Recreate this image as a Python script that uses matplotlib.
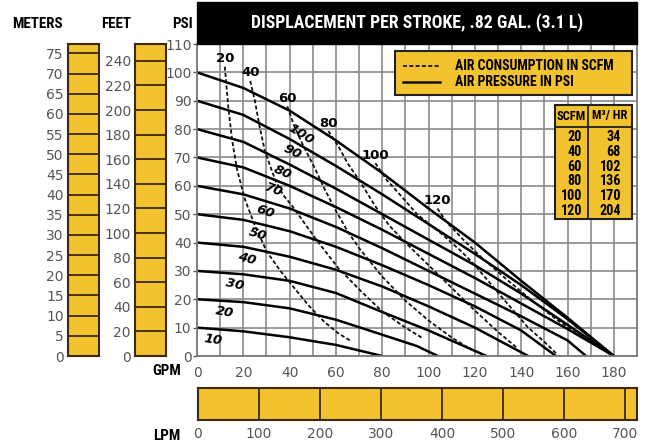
import numpy as np
import matplotlib
matplotlib.use('Agg')
from matplotlib import pyplot as plt
from matplotlib.patches import Rectangle

W, H = 650, 442
YELLOW = '#F3C22F'
EDGE = '#3b2a12'
GRAY_TXT = '#555555'
NARROW = ['Roboto Condensed', 'Liberation Sans Narrow', 'Roboto', 'DejaVu Sans']

# axis ticks
gpm_ticks = [0, 20, 40, 60, 80, 100, 120, 140, 160, 180]
psi_ticks = [0, 10, 20, 30, 40, 50, 60, 70, 80, 90, 100, 110]
meter_ticks = [0, 5, 10, 15, 20, 25, 30, 35, 40, 45, 50, 55, 60, 65, 70, 75]
feet_ticks = [0, 20, 40, 60, 80, 100, 120, 140, 160, 180, 200, 220, 240]
lpm_ticks = [0, 100, 200, 300, 400, 500, 600, 700]

# air pressure curves (psi)
pressure_levels = [10, 20, 30, 40, 50, 60, 70, 80, 90, 100]
pressure_gpm = [
    [0, 20, 40, 60, 80],
    [0, 20, 40, 60, 80, 95, 104],
    [0, 20, 40, 60, 80, 100, 125],
    [0, 20, 40, 60, 80, 100, 120, 143],
    [0, 20, 40, 60, 80, 100, 120, 140, 155],
    [0, 20, 40, 60, 80, 100, 120, 140, 160, 168],
    [0, 20, 40, 60, 80, 100, 120, 140, 160, 180],
    [0, 20, 40, 60, 80, 100, 120, 140, 160, 180],
    [0, 20, 40, 60, 80, 100, 120, 140, 160, 180],
    [0, 20, 40, 60, 80, 100, 120, 140, 160, 180],
]
pressure_psi = [
    [10, 8.7, 6.6, 3.9, 0],
    [20, 19, 16.8, 12.8, 7.5, 3.5, 0],
    [30, 28.8, 26.5, 22.2, 15.5, 9, 0],
    [40, 38.5, 35, 30.4, 24.5, 17.5, 10, 0],
    [50, 48, 44, 38.5, 32, 25, 17.5, 9, 0],
    [60, 57, 52, 45.5, 38, 30, 22, 14, 5.5, 0],
    [70, 66.5, 60, 52.5, 44.5, 36, 27.5, 18.5, 9.5, 0],
    [80, 75.5, 67.5, 59, 50, 41, 32, 22, 11, 0],
    [90, 85, 76.5, 67, 57, 46.5, 36, 25, 13, 0],
    [100, 94.5, 86.5, 76, 64.5, 52, 40, 26.5, 13.5, 0],
]

# air consumption curves (scfm)
scfm_levels = [20, 40, 60, 80, 100, 120]
scfm_gpm = [
    [12, 13.6, 15.2, 17.2, 20.8, 25, 30, 36, 42, 48, 55, 61, 66],
    [23, 25, 27, 29.4, 33.8, 37, 41, 51, 61, 71, 80, 90, 97],
    [39, 42, 46, 51, 55, 59.7, 65, 70, 80, 90, 100, 110, 117],
    [56.7, 61, 65, 70, 77, 83, 90, 100, 110, 120, 130, 138],
    [77, 82, 88.6, 95, 106, 114, 120, 132, 143, 150, 155],
    [103.8, 108, 115, 122.5, 133, 144, 155, 163, 169],
]
scfm_psi = [
    [102, 87, 76, 66, 55, 46, 37, 30, 24, 18, 12, 8, 5.5],
    [97, 90, 81, 72, 62, 57, 53, 41.6, 31, 22.7, 15.7, 10, 6.5],
    [88, 81, 74, 66, 59, 51.6, 44, 38, 28, 19.5, 12.5, 6.5, 3],
    [79.3, 74, 68, 62, 52.8, 46, 40, 32, 24, 16, 8.5, 3],
    [68, 62, 56, 50, 42.8, 37, 32, 20.4, 10, 5, 1],
    [52, 47, 41, 35, 27.5, 20, 13, 8.5, 6],
]
m3hr_values = [34, 68, 102, 136, 170, 204]

PSI_TO_M = 0.70307
PSI_TO_FT = 2.30666
GPM_TO_LPM = 3.78541


def px_rect(x0, y0, x1, y1):
    return [x0 / W, 1 - y1 / H, (x1 - x0) / W, (y1 - y0) / H]


fig = plt.figure(figsize=(W / 100, H / 100), dpi=100)

# main chart
ax = fig.add_axes(px_rect(197, 44, 637, 356))
ax.set_xlim(0, 190)
ax.set_ylim(0, 110)
ax.set_xticks(gpm_ticks)
ax.set_xticks(np.arange(10, 190, 20), minor=True)
ax.set_yticks(psi_ticks)
ax.grid(which='both', color='#8a8a8a', lw=1.2)
ax.set_axisbelow(True)
for s in ax.spines.values():
    s.set_color('#7a7a7a')
    s.set_linewidth(1.3)
ax.tick_params(axis='x', which='both', length=0, pad=7, labelsize=10, labelcolor=GRAY_TXT)
ax.tick_params(axis='y', length=3, width=1, color='#555', pad=1, labelsize=10, labelcolor=GRAY_TXT)

for q, p in zip(pressure_gpm, pressure_psi):
    ax.plot(q, p, color='black', lw=1.8)
for q, p in zip(scfm_gpm, scfm_psi):
    ax.plot(q, p, color='#111111', lw=1.3, dashes=(2.2, 1.3))

# curve labels
label_gpm = [7, 12, 16.5, 21.5, 26, 29.5, 33, 37, 41, 45]
label_rot = [-8, -10, -12, -14, -17, -19, -21, -23, -26, -32]
for lvl, q, p, lx, rot in zip(pressure_levels, pressure_gpm, pressure_psi, label_gpm, label_rot):
    off = -12 if lvl == 100 else -8
    ax.annotate(str(lvl), xy=(lx, np.interp(lx, q, p)), xytext=(0, off),
                textcoords='offset points', ha='center', va='center',
                rotation=rot, fontsize=9.5, fontweight='bold', style='italic')
for lvl, q, p in zip(scfm_levels, scfm_gpm, scfm_psi):
    ax.annotate(str(lvl), xy=(q[0], p[0]), xytext=(0, 1),
                textcoords='offset points', ha='center', va='bottom',
                fontsize=9.5, fontweight='bold')

# head scales on the left
ax_m = fig.add_axes(px_rect(68, 44, 99, 356))
ax_m.set_ylim(0, 110 * PSI_TO_M)
ax_f = fig.add_axes(px_rect(135, 44, 166, 356))
ax_f.set_ylim(0, 110 * PSI_TO_FT)
for a, ticks in ((ax_m, meter_ticks), (ax_f, feet_ticks)):
    a.set_facecolor(YELLOW)
    a.set_xticks([])
    a.set_yticks(ticks)
    a.grid(axis='y', color=EDGE, lw=1.3)
    a.tick_params(axis='y', length=0, pad=3, labelsize=10, labelcolor=GRAY_TXT)
    for s in a.spines.values():
        s.set_color(EDGE)
        s.set_linewidth(1.5)

# LPM bar at the bottom
ax_l = fig.add_axes(px_rect(198, 388, 637, 420))
ax_l.set_xlim(0, 190 * GPM_TO_LPM)
ax_l.set_facecolor(YELLOW)
ax_l.set_yticks([])
ax_l.set_xticks(lpm_ticks)
ax_l.grid(axis='x', color=EDGE, lw=1.3)
ax_l.tick_params(axis='x', length=0, pad=5, labelsize=10, labelcolor=GRAY_TXT)
for s in ax_l.spines.values():
    s.set_color(EDGE)
    s.set_linewidth(1.5)

# overlay in pixel coordinates for title, legend, table and headers
ov = fig.add_axes([0, 0, 1, 1], zorder=10)
ov.set_xlim(0, W)
ov.set_ylim(H, 0)
ov.axis('off')

ov.add_patch(Rectangle((197, 2), 440, 42, fc='black', ec='black'))
ov.text(417, 23, 'DISPLACEMENT PER STROKE, .82 GAL. (3.1 L)', color='white',
        ha='center', va='center', fontsize=12.8, fontweight='bold', family=NARROW)

for x, t in ((37, 'METERS'), (116, 'FEET'), (182, 'PSI')):
    ov.text(x, 24, t, ha='center', va='center', fontsize=10.8, fontweight='bold', family=NARROW)
ov.text(167, 371, 'GPM', ha='center', va='center', fontsize=10.8, fontweight='bold', family=NARROW)
ov.text(167, 436, 'LPM', ha='center', va='center', fontsize=10.8, fontweight='bold', family=NARROW)

# legend box
ov.add_patch(Rectangle((395, 51), 237, 44, fc=YELLOW, ec='#222', lw=1.5))
ov.plot([403, 440], [66, 66], color='#111', lw=1.3, dashes=(2.2, 1.3))
ov.plot([403, 440], [82, 82], color='#111', lw=1.8)
ov.text(455, 66, 'AIR CONSUMPTION IN SCFM', ha='left', va='center',
        fontsize=9.9, fontweight='bold', family=NARROW)
ov.text(455, 82, 'AIR PRESSURE IN PSI', ha='left', va='center',
        fontsize=9.9, fontweight='bold', family=NARROW)

# scfm / m3 table
ov.add_patch(Rectangle((555, 105), 77, 114, fc=YELLOW, ec='#222', lw=1.5))
ov.plot([588, 588], [105, 219], color='#222', lw=1.3)
ov.plot([555, 632], [127, 127], color='#222', lw=1.3)
ov.text(571.5, 116, 'SCFM', ha='center', va='center', fontsize=9, fontweight='bold', family=NARROW)
ov.text(610, 116, 'M³/ HR', ha='center', va='center', fontsize=9, fontweight='bold', family=NARROW)
for i, (s, m) in enumerate(zip(scfm_levels, m3hr_values)):
    y = 137 + i * 14.8
    ov.text(582, y, str(s), ha='right', va='center', fontsize=10.2, fontweight='bold', family=NARROW)
    ov.text(621, y, str(m), ha='right', va='center', fontsize=10.2, fontweight='bold', family=NARROW)

fig.savefig('out.png', dpi=100)
